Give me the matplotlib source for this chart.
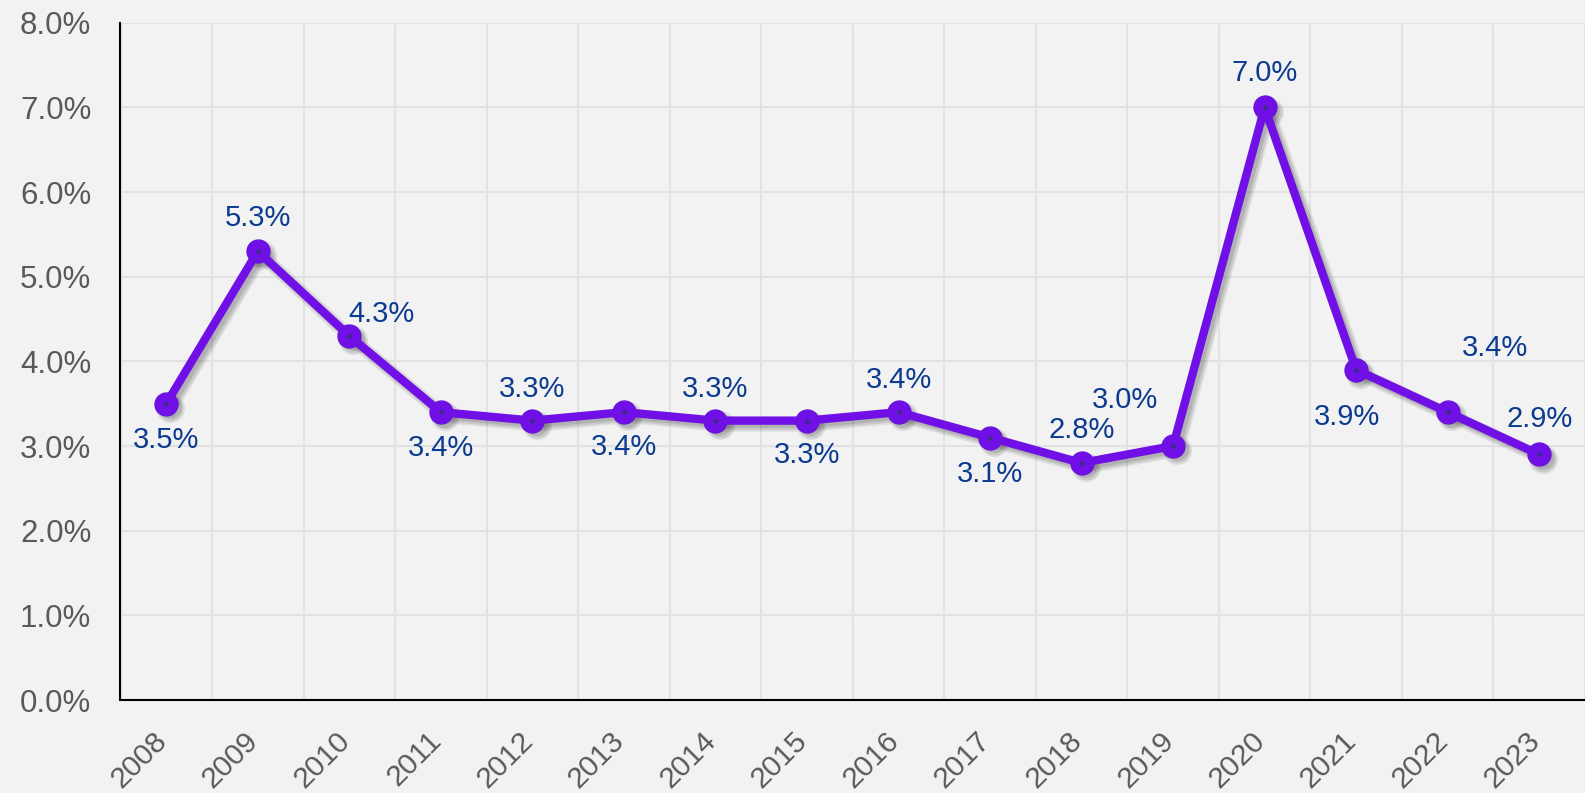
import matplotlib
matplotlib.use("Agg")
import matplotlib.pyplot as plt
import matplotlib.transforms as mtrans
from matplotlib.ticker import FixedLocator, FuncFormatter

years = ["2008", "2009", "2010", "2011", "2012", "2013", "2014", "2015",
         "2016", "2017", "2018", "2019", "2020", "2021", "2022", "2023"]
values = [3.5, 5.3, 4.3, 3.4, 3.3, 3.4, 3.3, 3.3, 3.4, 3.1, 2.8, 3.0, 7.0, 3.9, 3.4, 2.9]
# label offsets in pixels (dx, dy), dy positive = upward
label_offsets = [(0, -36), (0, 33), (32, 22), (0, -36), (0, 32), (0, -35), (0, 32), (0, -34),
                 (0, 32), (0, -36), (0, 33), (-48, 46), (0, 34), (-9, -47), (47, 64), (0, 35)]
yticks = [0, 1, 2, 3, 4, 5, 6, 7, 8]

plt.rcParams['font.family'] = ['Liberation Sans', 'DejaVu Sans']

BG = "#f2f2f2"
fig = plt.figure(figsize=(15.85, 7.93), dpi=100, facecolor=BG)
ax = fig.add_axes([120.5 / 1585, 1 - 700 / 793, 1 - 120.5 / 1585, (700 - 22.7) / 793])
ax.set_facecolor(BG)

x = list(range(len(years)))
# soft shadow layers
for k, (ox, oy, a, lw) in enumerate([(3, -3, 0.10, 10), (3, -3, 0.12, 7.5), (2.5, -2.5, 0.15, 5.5)]):
    tr = mtrans.offset_copy(ax.transData, fig=fig, x=ox, y=oy, units="points")
    ax.plot(x, values, color="#333333", alpha=a, lw=lw, marker="o", markersize=16.5 + (lw - 5.5),
            markeredgewidth=0, solid_joinstyle="round", transform=tr, zorder=2)

ax.plot(x, values, color="#7010e6", lw=6, marker="o", markersize=16.5,
        markerfacecolor="#7010e6", markeredgecolor="#6a12dc", markeredgewidth=1,
        solid_joinstyle="round", zorder=3)
ax.plot(x, values, linestyle="none", marker="o", markersize=2.5, color="#3f2a8c", zorder=4)

for xi, v, (dx, dy) in zip(x, values, label_offsets):
    ax.annotate(f"{v:.1f}%", (xi, v), xytext=(dx * 0.72, dy * 0.72), textcoords="offset points",
                ha="center", va="center", fontsize=21, color="#0b3a8f", zorder=5)

ax.set_xlim(-0.5, len(years) - 0.5)
ax.set_ylim(0, 8)
ax.set_xticks(x)
ax.set_xticklabels(years, rotation=45, ha="right", rotation_mode="default")
ax.xaxis.set_minor_locator(FixedLocator([i + 0.5 for i in range(-1, len(years))]))
ax.set_yticks(yticks)
ax.yaxis.set_major_formatter(FuncFormatter(lambda v, p: f"{v:.1f}%"))

ax.grid(False)
ax.grid(True, which="minor", axis="x", color="#e2e2e2", lw=1.5)
ax.grid(True, which="major", axis="y", color="#e2e2e2", lw=1.5)
ax.set_axisbelow(True)

ax.tick_params(axis="x", which="both", length=0, pad=19, labelsize=21.5, labelcolor="#595959")
ax.tick_params(axis="y", which="both", length=0, pad=21, labelsize=22.5, labelcolor="#595959")

shift = mtrans.ScaledTranslation(6 / 100, 0, fig.dpi_scale_trans)
for lab in ax.get_xticklabels():
    lab.set_transform(lab.get_transform() + shift)

for s in ["top", "right"]:
    ax.spines[s].set_visible(False)
for s in ["left", "bottom"]:
    ax.spines[s].set_color("black")
    ax.spines[s].set_linewidth(1.5)

fig.savefig("out.png", dpi=100, facecolor=BG)
